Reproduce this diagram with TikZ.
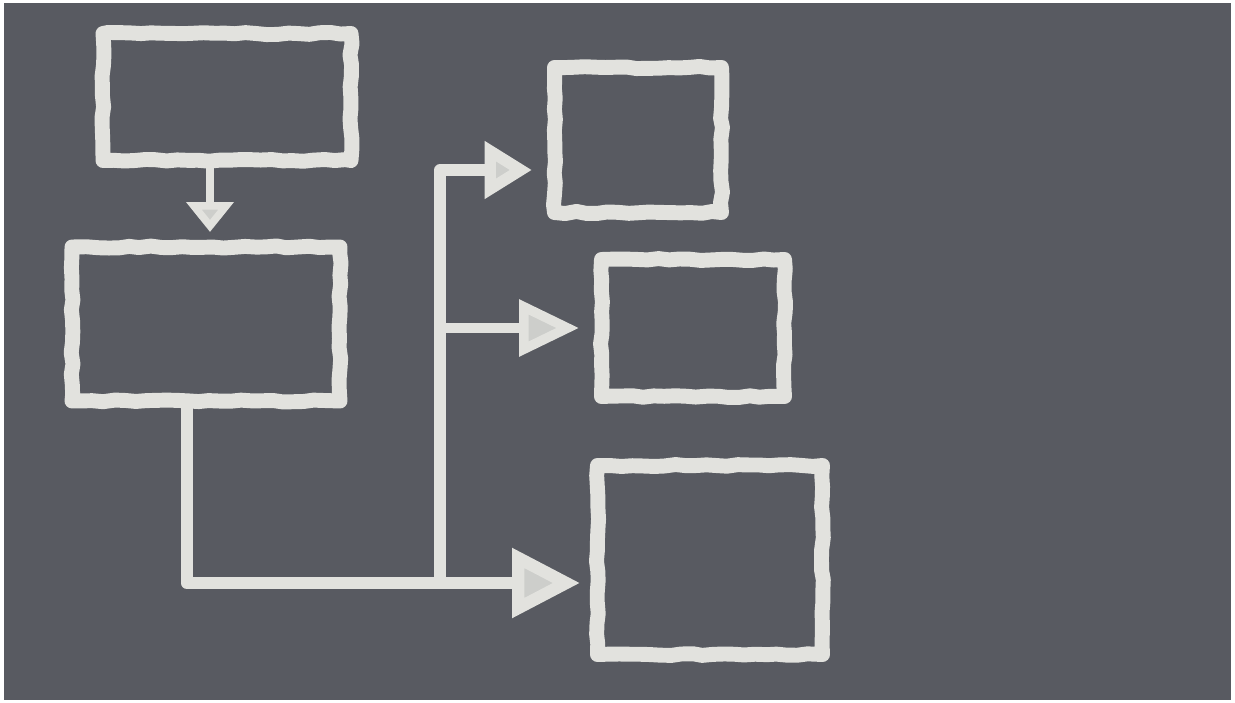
\documentclass[tikz,border=0pt]{standalone}
\usepackage{tikz}
\usetikzlibrary{arrows.meta, positioning, calc, decorations.pathmorphing}
\usepackage{xcolor}
\definecolor{meuquadro}{RGB}{88, 90, 97}
\definecolor{meugiz}{RGB}{226, 226, 222}

\begin{document}
\begin{tikzpicture}[
    caixa/.style={draw=meugiz, line width=8.5pt, line join=round,
        minimum width=3cm, minimum height=2.5cm, inner sep=0pt,
        decorate, decoration={random steps, segment length=6pt, amplitude=0.6pt}},
    giz/.style={draw=meugiz, line width=6.5pt, line join=round},
    setagiz/.style={giz, -{Triangle[length=0.95cm, width=1.1cm, fill=meugiz!85!meuquadro]}, shorten >=0.3cm},
]
\pgfmathsetseed{7}

% ── Quadro (fundo) ──────────────────────────
\useasboundingbox (0,0) rectangle (24.7,-14.06);
\fill[white] (0,0) rectangle (24.7,-14.06);
\fill[meuquadro] (0.08,-0.06) rectangle (24.62,-14.0);

% Caixas da esquerda
\node[caixa, minimum width=4.96cm, minimum height=2.54cm] (topo)  at (4.54,-1.94) {};
\node[caixa, minimum width=5.36cm, minimum height=3.08cm] (meio)  at (4.12,-6.48) {};

% Caixas da direita
\node[caixa, minimum width=3.34cm, minimum height=2.90cm] (dir1) at (12.76,-2.80) {};
\node[caixa, minimum width=3.66cm, minimum height=2.74cm] (dir2) at (13.86,-6.56) {};
\node[caixa, minimum width=4.50cm, minimum height=3.78cm] (dir3) at (14.20,-11.20) {};

% Pontos de apoio
\coordinate (xtopo)  at (4.2,0);
\coordinate (canto)  at (3.74,-11.66);
\coordinate (tronco) at (8.8,-3.4);

% ── Setas ──────────────────────────────────
\draw[setagiz, line width=4.5pt, -{Triangle[length=0.6cm, width=0.92cm, fill=meugiz!85!meuquadro]}, shorten >=0.15cm]
    (topo.south -| xtopo) -- (meio.north -| xtopo);
\draw[setagiz, line width=7pt, -{Triangle[length=1.36cm, width=1.34cm, fill=meugiz!85!meuquadro]}, shorten >=0.2cm]
    (meio.south -| canto) -- (canto) -- (canto -| dir3.west);
\draw[setagiz] (tronco |- canto) -- (tronco) -- (tronco -| dir1.west);
\draw[setagiz, line width=5.5pt, -{Triangle[length=1.2cm, width=1.1cm, fill=meugiz!85!meuquadro]}]
    (tronco |- dir2.west) -- (dir2.west);

\end{tikzpicture}
\end{document}
